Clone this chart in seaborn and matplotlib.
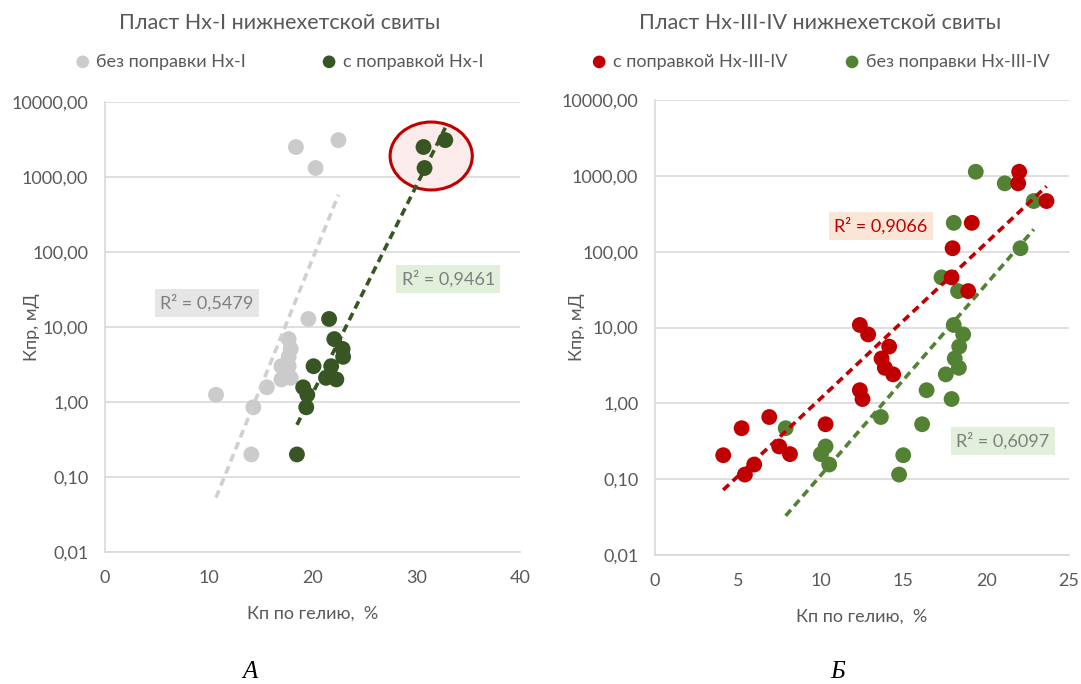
import numpy as np
import pandas as pd
import matplotlib
matplotlib.use("Agg")
import matplotlib.pyplot as plt
from matplotlib.patches import Ellipse
from matplotlib.ticker import FixedLocator, FuncFormatter, NullLocator
import seaborn as sns

# ---- Пласт Нх-I ----
perm_hx1 = [2512, 3100, 1318, 12.8, 6.9, 5.1, 4.0, 3.0, 3.0, 2.0, 2.1, 1.57, 1.25, 0.85, 0.20]
por_hx1_raw = [18.4, 22.5, 20.3, 19.6, 17.7, 17.9, 17.7, 17.0, 17.7, 17.0, 17.9, 15.6, 10.7, 14.3, 14.1]
por_hx1_corr = [30.7, 32.8, 30.8, 21.6, 22.1, 22.9, 22.95, 20.1, 21.8, 22.3, 21.3, 19.1, 19.5, 19.4, 18.5]

# ---- Пласт Нх-III-IV ----
perm_hx34 = [1132, 796, 465, 240, 111, 45.8, 30.2, 10.8, 8.1, 5.6, 3.9, 2.94, 2.41, 1.49,
             1.14, 0.66, 0.47, 0.53, 0.27, 0.214, 0.207, 0.156, 0.115]
por_hx34_corr = [21.99, 21.93, 23.64, 19.13, 17.97, 17.91, 18.91, 12.37, 12.87, 14.14, 13.68,
                 13.88, 14.38, 12.37, 12.53, 6.90, 5.23, 10.30, 7.50, 8.15, 4.12, 5.99, 5.43]
por_hx34_raw = [19.37, 21.12, 22.87, 18.04, 22.07, 17.30, 18.30, 18.04, 18.61, 18.37, 18.10,
                18.35, 17.56, 16.40, 17.91, 13.64, 7.89, 16.13, 10.30, 10.02, 14.99, 10.52, 14.74]

r2_labels = {"hx1_raw": "R² = 0,5479", "hx1_corr": "R² = 0,9461",
             "hx34_corr": "R² = 0,9066", "hx34_raw": "R² = 0,6097"}

sns.set_theme(style="white")
plt.rcParams["font.family"] = ["Lato", "DejaVu Sans"]

GRAY = "#cbcbcb"
DKGREEN = "#375623"
RED = "#c00000"
GREEN = "#548235"
TXT = "#595959"
GRID = "#d9d9d9"

fig = plt.figure(figsize=(10.81, 6.84), dpi=100)
axL = fig.add_axes([105 / 1081, 1 - 552 / 684, 415 / 1081, 450 / 684])
axR = fig.add_axes([655 / 1081, 1 - 555 / 684, 414 / 1081, 455 / 684])


def exp_trend(ax, x, y, color):
    x = np.asarray(x, float)
    k, b = np.polyfit(x, np.log10(y), 1)
    xs = np.linspace(x.min(), x.max(), 50)
    fit = pd.DataFrame({"x": xs, "y": 10 ** (k * xs + b)})
    sns.lineplot(data=fit, x="x", y="y", ax=ax, color=color, lw=2.6,
                 linestyle=(0, (2.2, 1.4)), zorder=4)


def scatter(ax, x, y, color, label, z):
    df = pd.DataFrame({"x": x, "y": y})
    sns.scatterplot(data=df, x="x", y="y", ax=ax, color=color, s=130,
                    edgecolor="none", label=label, zorder=z)


def style_axes(ax, xmax, xstep, ylab_x):
    ax.set_yscale("log")
    ax.set_ylim(0.01, 10000)
    ax.set_xlim(0, xmax)
    ax.yaxis.set_major_locator(FixedLocator([0.01, 0.1, 1, 10, 100, 1000, 10000]))
    ax.yaxis.set_minor_locator(NullLocator())
    ax.yaxis.set_major_formatter(FuncFormatter(lambda v, p: f"{v:.2f}".replace(".", ",")))
    ax.set_xticks(np.arange(0, xmax + 0.1, xstep))
    ax.grid(axis="y", color=GRID, lw=1.2)
    ax.grid(axis="x", visible=False)
    for s in ("top", "right"):
        ax.spines[s].set_visible(False)
    for s in ("left", "bottom"):
        ax.spines[s].set_color(GRID)
        ax.spines[s].set_linewidth(1.2)
    ax.tick_params(axis="both", length=0, labelsize=13, labelcolor=TXT)
    ax.tick_params(axis="x", pad=13)
    ax.tick_params(axis="y", pad=12)
    ax.set_xlabel("Кп по гелию,  %", fontsize=13, color=TXT, labelpad=14)
    ax.set_ylabel("Кпр, мД", fontsize=13, color=TXT)
    ax.yaxis.set_label_coords(ylab_x, 0.5)


LEG = dict(ncol=2, frameon=False, fontsize=13, labelcolor=TXT, handlelength=0.8,
           handletextpad=0.35, markerscale=0.8, loc="lower center")

# Left panel
scatter(axL, por_hx1_raw, perm_hx1, GRAY, "без поправки Нх-I", 3)
scatter(axL, por_hx1_corr, perm_hx1, DKGREEN, "с поправкой Нх-I", 3)
exp_trend(axL, por_hx1_raw, perm_hx1, "#d0d0d0")
exp_trend(axL, por_hx1_corr, perm_hx1, DKGREEN)
style_axes(axL, 40, 10, -0.157)
axL.add_patch(Ellipse((0.786, 0.88), 0.198, 0.151, transform=axL.transAxes,
                      facecolor="#fbebeb", edgecolor=RED, lw=2.2, zorder=2))
axL.text(0.245, 0.553, r2_labels["hx1_raw"], transform=axL.transAxes, ha="center",
         va="center", fontsize=13, color="#7f7f7f",
         bbox=dict(boxstyle="square,pad=0.3", fc="#e7e6e6", ec="none"))
axL.text(0.827, 0.606, r2_labels["hx1_corr"], transform=axL.transAxes, ha="center",
         va="center", fontsize=13, color="#7f7f7f",
         bbox=dict(boxstyle="square,pad=0.3", fc="#e2efda", ec="none"))
axL.legend(bbox_to_anchor=(0.42, 1.036), columnspacing=4.2, **LEG)

# Right panel
scatter(axR, por_hx34_raw, perm_hx34, GREEN, "без поправки Нх-III-IV", 3)
scatter(axR, por_hx34_corr, perm_hx34, RED, "с поправкой Нх-III-IV", 3)
exp_trend(axR, por_hx34_raw, perm_hx34, GREEN)
exp_trend(axR, por_hx34_corr, perm_hx34, RED)
style_axes(axR, 25, 5, -0.169)
axR.text(0.545, 0.723, r2_labels["hx34_corr"], transform=axR.transAxes, ha="center",
         va="center", fontsize=13, color=RED,
         bbox=dict(boxstyle="square,pad=0.3", fc="#fbe5d6", ec="none"))
axR.text(0.84, 0.250, r2_labels["hx34_raw"], transform=axR.transAxes, ha="center",
         va="center", fontsize=13, color="#7f7f7f",
         bbox=dict(boxstyle="square,pad=0.3", fc="#e2efda", ec="none"))
h, l = axR.get_legend_handles_labels()
axR.legend(h[::-1], l[::-1], bbox_to_anchor=(0.40, 1.031), columnspacing=3.2, **LEG)

# Titles and panel captions
fig.text(280 / 1081, 1 - 23 / 684, "Пласт Нх-I нижнехетской свиты", ha="center",
         va="center", fontsize=15.5, color=TXT)
fig.text(820 / 1081, 1 - 23 / 684, "Пласт Нх-III-IV нижнехетской свиты", ha="center",
         va="center", fontsize=15.5, color=TXT)
fig.text(250 / 1081, 1 - 672 / 684, "А", ha="center", va="center", fontsize=18,
         style="italic", family="Liberation Serif", color="black")
fig.text(838 / 1081, 1 - 672 / 684, "Б", ha="center", va="center", fontsize=18,
         style="italic", family="Liberation Serif", color="black")

fig.savefig("out.png", dpi=100, facecolor="white")
